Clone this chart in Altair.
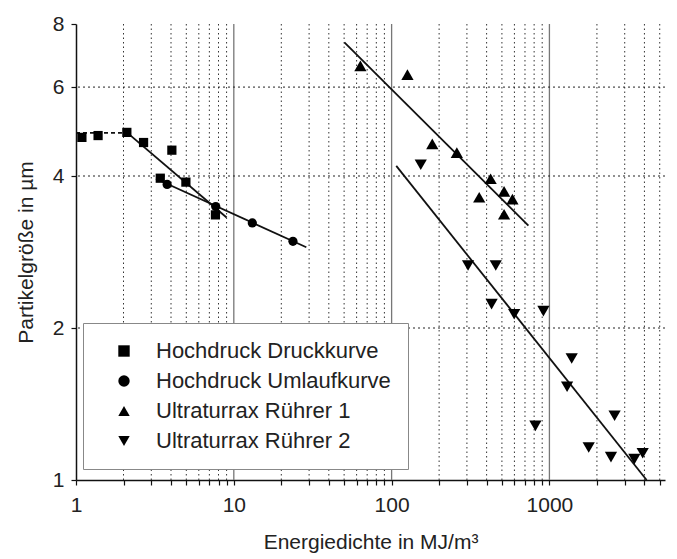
import altair as alt
import pandas as pd

FONT = "Liberation Sans"

series_names = ["Hochdruck Druckkurve", "Hochdruck Umlaufkurve",
                "Ultraturrax Rührer 1", "Ultraturrax Rührer 2"]
series_shapes = ["square", "circle", "triangle-up", "triangle-down"]
series_sizes = [85, 85, 150, 150]

druck_x = [1.09, 1.38, 2.10, 2.68, 4.05, 3.42, 4.97, 7.65]
druck_y = [4.77, 4.81, 4.88, 4.66, 4.50, 3.96, 3.89, 3.35]

umlauf_x = [3.78, 7.68, 13.1, 23.7]
umlauf_y = [3.85, 3.48, 3.23, 2.97]

r1_x = [63.4, 126, 181, 259, 424, 516, 583, 359, 516]
r1_y = [6.61, 6.35, 4.63, 4.45, 3.95, 3.73, 3.60, 3.63, 3.36]

r2_x = [153, 305, 457, 430, 598, 916, 1384, 1294, 815, 2588, 1774, 2455, 3452, 3898]
r2_y = [4.21, 2.66, 2.66, 2.23, 2.13, 2.16, 1.74, 1.53, 1.28, 1.34, 1.16, 1.11, 1.10, 1.13]

# fit lines (endpoints)
fit_seg = ["d0", "d0", "d1", "d1", "u", "u", "r1", "r1", "r2", "r2"]
fit_style = ["dash", "dash", "solid", "solid", "solid", "solid", "solid", "solid", "solid", "solid"]
fit_x = [1.0, 2.10, 2.10, 9.0, 3.21, 28.8, 50.2, 736, 107, 4130]
fit_y = [4.87, 4.87, 4.88, 3.31, 3.95, 2.89, 7.36, 3.19, 4.19, 1.0]

x_minor = [2, 3, 4, 5, 6, 7, 8, 9, 20, 30, 40, 50, 60, 70, 80, 90,
           200, 300, 400, 500, 600, 700, 800, 900, 2000, 3000, 4000, 5000]
x_major = [10, 100, 1000]
x_labels = [1, 10, 100, 1000]
y_grid = [2, 4, 6]
y_ticks = [1, 2, 4, 6, 8]

x_domain = [1, 5400]
y_domain = [1, 8]

rows = []
for name, sz, xs, ys in zip(series_names, series_sizes, [druck_x, umlauf_x, r1_x, r2_x], [druck_y, umlauf_y, r1_y, r2_y]):
    for a, b in zip(xs, ys):
        rows.append({"series": name, "x": a, "y": b, "sz": sz})
pts = pd.DataFrame(rows)
fits = pd.DataFrame({"seg": fit_seg, "style": fit_style, "x": fit_x, "y": fit_y})

xscale = alt.Scale(type="log", domain=x_domain, nice=False)
yscale = alt.Scale(type="log", domain=y_domain, nice=False)

label_test = " || ".join(f"datum.value == {v}" for v in x_labels)
xaxis = alt.Axis(values=x_labels + x_minor + x_major, labelExpr=f"({label_test}) ? format(datum.value, 'd') : ''",
                 grid=False, tickSize=5, labelPadding=9, titlePadding=16,
                 title="Energiedichte in MJ/m³", labelFlush=False)
yaxis = alt.Axis(values=y_ticks, format="d", grid=False, tickSize=5, labelPadding=7,
                 titlePadding=16, title="Partikelgröße in µm")

vminor = alt.Chart(pd.DataFrame({"x": x_minor})).mark_rule(
    color="#333", strokeWidth=1, strokeDash=[1.5, 3]).encode(x=alt.X("x:Q", scale=xscale, axis=xaxis))
vmajor = alt.Chart(pd.DataFrame({"x": x_major})).mark_rule(
    color="#777", strokeWidth=1.3).encode(x=alt.X("x:Q", scale=xscale))
hgrid = alt.Chart(pd.DataFrame({"y": y_grid})).mark_rule(
    color="#222", strokeWidth=1, strokeDash=[2, 3]).encode(y=alt.Y("y:Q", scale=yscale, axis=yaxis))

lines_solid = alt.Chart(fits[fits["style"] == "solid"]).mark_line(
    color="#111", strokeWidth=1.8).encode(
    x=alt.X("x:Q", scale=xscale), y=alt.Y("y:Q", scale=yscale), detail="seg:N")
lines_dash = alt.Chart(fits[fits["style"] == "dash"]).mark_line(
    color="#111", strokeWidth=1.8, strokeDash=[4, 3]).encode(
    x=alt.X("x:Q", scale=xscale), y=alt.Y("y:Q", scale=yscale), detail="seg:N")

points = alt.Chart(pts).mark_point(filled=True, color="#000", opacity=1).encode(
    x=alt.X("x:Q", scale=xscale),
    y=alt.Y("y:Q", scale=yscale),
    size=alt.Size("sz:Q", scale=None, legend=None),
    shape=alt.Shape("series:N", scale=alt.Scale(domain=series_names, range=series_shapes),
                    legend=alt.Legend(title=None, orient="none", legendX=7, legendY=299,
                                      fillColor="white", strokeColor="#888",
                                      padding=17, symbolOffset=13, labelOffset=21,
                                      rowPadding=8, symbolSize=130,
                                      symbolFillColor="#000", symbolStrokeColor="#000",
                                      symbolStrokeWidth=0,
                                      labelFont=FONT, labelFontSize=22, labelColor="#222",
                                      labelLimit=400)),
)

chart = alt.layer(vminor, vmajor, hgrid, lines_dash, lines_solid, points).properties(
    width=589, height=456,
    autosize=alt.AutoSizeParams(type="none"),
    padding={"left": 68, "top": 16, "right": 4, "bottom": 78},
).configure_view(stroke=None).configure_axis(
    labelFont=FONT, titleFont=FONT, labelFontSize=21, titleFontSize=21,
    titleFontWeight="normal", labelColor="#222", titleColor="#222",
    domainColor="#111", domainWidth=1.5, tickColor="#111", tickWidth=1.2,
)

chart.save("out.html", embed_options={"renderer": "svg", "actions": False})
